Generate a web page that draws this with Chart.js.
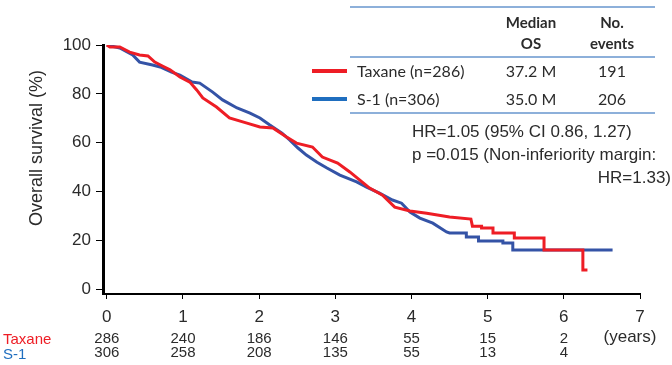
<!DOCTYPE html>
<html>
<head>
<meta charset="utf-8">
<script src="https://cdn.jsdelivr.net/npm/chart.js@4.4.1/dist/chart.umd.min.js"></script>
<style>
  html, body { margin: 0; padding: 0; background: #fff; }
  #km { display: block; }
</style>
</head>
<body>
<canvas id="km" width="672" height="365"></canvas>
<script>
// Kaplan-Meier overall survival: Taxane vs S-1
// values (years, % surviving)

const YEAR_TICKS = [0, 1, 2, 3, 4, 5, 6, 7];
const SURV_TICKS = [0, 20, 40, 60, 80, 100];

const TAXANE_T = [0, 0.04, 0.17, 0.30, 0.43, 0.54, 0.63, 0.73, 0.83, 0.96, 1.09, 1.18, 1.26, 1.44, 1.61, 1.84,
  2.01, 2.18, 2.36, 2.49, 2.70, 2.83, 3.03, 3.19, 3.35, 3.45, 3.62, 3.78, 3.98, 4.20, 4.50, 4.78,
  4.80, 4.92, 4.92, 5.07, 5.07, 5.35, 5.35, 5.74, 5.74, 6.25, 6.25, 6.31];
const TAXANE_S = [100, 99.2, 99.2, 97.1, 95.9, 95.5, 93.0, 91.4, 89.8, 86.9, 84.8, 81.6, 78.3, 74.6, 70.1, 68.0,
  66.4, 66.0, 62.3, 59.8, 58.2, 54.1, 51.6, 48.0, 43.9, 41.4, 38.5, 33.6, 32.0, 31.1, 29.5, 28.7,
  25.8, 25.8, 25.0, 25.0, 23.0, 23.0, 20.9, 20.9, 16.0, 16.0, 7.8, 7.8];

const S1_T = [0, 0.17, 0.34, 0.43, 0.60, 0.70, 0.85, 0.96, 1.12, 1.22, 1.39, 1.52, 1.71, 1.88, 2.01, 2.14,
  2.30, 2.40, 2.51, 2.62, 2.76, 2.89, 3.06, 3.28, 3.41, 3.58, 3.75, 3.87, 3.98, 4.11, 4.28, 4.46,
  4.50, 4.72, 4.72, 4.88, 4.88, 5.20, 5.20, 5.33, 5.33, 6.64];
const S1_S = [100, 98.8, 95.9, 93.0, 91.8, 91.0, 88.9, 87.7, 84.8, 84.4, 80.7, 77.5, 74.2, 72.1, 70.1, 67.2,
  63.9, 61.1, 57.8, 54.9, 52.0, 49.6, 46.7, 43.9, 41.8, 39.3, 36.5, 35.2, 31.6, 29.1, 27.0, 23.4,
  23.0, 23.0, 21.3, 21.3, 19.7, 19.7, 18.9, 18.9, 16.0, 16.0];

const AT_RISK_TAXANE = [286, 240, 186, 146, 55, 15, 2];
const AT_RISK_S1 = [306, 258, 208, 135, 55, 13, 4];

const RED = '#EE1D25';
const BLUE = '#3453A6';
const LEGEND_BLUE = '#1F6EBF';
const TEXT = '#2b2b2b';
const TABLE_LINE = '#8DB0DA';

const ARIAL = '"Liberation Sans", Arial, sans-serif';
const CALIBRI = 'Lato, "Open Sans", sans-serif';

function toPoints(ts, ss) {
  return ts.map((t, i) => ({ x: t, y: ss[i] }));
}

// extra text: y title, legend table, HR text, numbers at risk
const annotations = {
  id: 'annotations',
  afterDraw(chart) {
    const ctx = chart.ctx;
    const xs = chart.scales.x;
    ctx.save();

    // y axis title
    ctx.save();
    ctx.translate(37, 148);
    ctx.rotate(-Math.PI / 2);
    ctx.fillStyle = TEXT;
    ctx.font = '18px ' + ARIAL;
    ctx.textAlign = 'center';
    ctx.textBaseline = 'middle';
    ctx.fillText('Overall survival (%)', 0, 0);
    ctx.restore();

    // table rules
    ctx.strokeStyle = TABLE_LINE;
    ctx.lineWidth = 2;
    [7, 57, 113].forEach(y => {
      ctx.beginPath();
      ctx.moveTo(350, y);
      ctx.lineTo(655, y);
      ctx.stroke();
    });

    // legend swatches
    ctx.lineWidth = 4;
    ctx.strokeStyle = RED;
    ctx.beginPath(); ctx.moveTo(312, 71); ctx.lineTo(347, 71); ctx.stroke();
    ctx.strokeStyle = LEGEND_BLUE;
    ctx.beginPath(); ctx.moveTo(312, 99); ctx.lineTo(347, 99); ctx.stroke();

    ctx.fillStyle = TEXT;
    ctx.textBaseline = 'middle';
    ctx.font = 'bold 15px ' + CALIBRI;
    ctx.textAlign = 'center';
    ctx.fillText('Median', 531, 23);
    ctx.fillText('OS', 531, 44);
    ctx.fillText('No.', 612, 23);
    ctx.fillText('events', 612, 44);

    ctx.font = '16px ' + CALIBRI;
    ctx.textAlign = 'left';
    ctx.fillText('Taxane (n=286)', 357, 72);
    ctx.fillText('S-1 (n=306)', 357, 100);
    ctx.textAlign = 'center';
    ctx.fillText('37.2 M', 531, 72);
    ctx.fillText('191', 612, 72);
    ctx.fillText('35.0 M', 531, 100);
    ctx.fillText('206', 612, 100);

    // hazard ratio text
    ctx.font = '17px ' + ARIAL;
    ctx.textAlign = 'left';
    ctx.fillText('HR=1.05 (95% CI 0.86, 1.27)', 412, 132);
    ctx.fillText('p =0.015 (Non-inferiority margin:', 412, 155);
    ctx.textAlign = 'right';
    ctx.fillText('HR=1.33)', 671, 178);

    // numbers at risk
    ctx.font = '15px ' + ARIAL;
    ctx.textAlign = 'left';
    ctx.fillStyle = RED;
    ctx.fillText('Taxane', 3, 340);
    ctx.fillStyle = LEGEND_BLUE;
    ctx.fillText('S-1', 3, 355);
    ctx.fillStyle = TEXT;
    ctx.textAlign = 'center';
    AT_RISK_TAXANE.forEach((n, i) => ctx.fillText(String(n), xs.getPixelForValue(YEAR_TICKS[i]), 339));
    AT_RISK_S1.forEach((n, i) => ctx.fillText(String(n), xs.getPixelForValue(YEAR_TICKS[i]), 353));

    ctx.font = '17px ' + ARIAL;
    ctx.fillText('(years)', 630, 337);

    ctx.restore();
  }
};

new Chart(document.getElementById('km'), {
  type: 'line',
  data: {
    datasets: [
      {
        label: 'Taxane (n=286)',
        data: toPoints(TAXANE_T, TAXANE_S),
        borderColor: RED,
        borderWidth: 3,
        pointRadius: 0,
        tension: 0,
        fill: false
      },
      {
        label: 'S-1 (n=306)',
        data: toPoints(S1_T, S1_S),
        borderColor: BLUE,
        borderWidth: 3,
        pointRadius: 0,
        tension: 0,
        fill: false
      }
    ]
  },
  options: {
    responsive: false,
    devicePixelRatio: 1,
    animation: false,
    layout: { padding: { top: 45, right: 32, left: 0, bottom: 0 } },
    plugins: {
      legend: { display: false },
      tooltip: { enabled: false }
    },
    scales: {
      x: {
        type: 'linear',
        min: -0.05,
        max: 7,
        afterBuildTicks: scale => { scale.ticks = YEAR_TICKS.map(v => ({ value: v })); },
        afterFit: scale => { scale.height = 71; },
        grid: { drawOnChartArea: false, drawTicks: true, tickLength: 5, color: '#000', lineWidth: 1 },
        border: { display: true, color: '#000', width: 2 },
        ticks: { color: TEXT, font: { family: ARIAL, size: 17 }, padding: 8 }
      },
      y: {
        min: -2,
        max: 100,
        afterBuildTicks: scale => { scale.ticks = SURV_TICKS.map(v => ({ value: v })); },
        afterFit: scale => { scale.width = 103; },
        grid: { drawOnChartArea: false, drawTicks: true, tickLength: 7, color: '#000', lineWidth: 1 },
        border: { display: true, color: '#000', width: 3 },
        ticks: { color: TEXT, font: { family: ARIAL, size: 17 }, padding: 5 }
      }
    }
  },
  plugins: [annotations]
});
</script>
</body>
</html>
